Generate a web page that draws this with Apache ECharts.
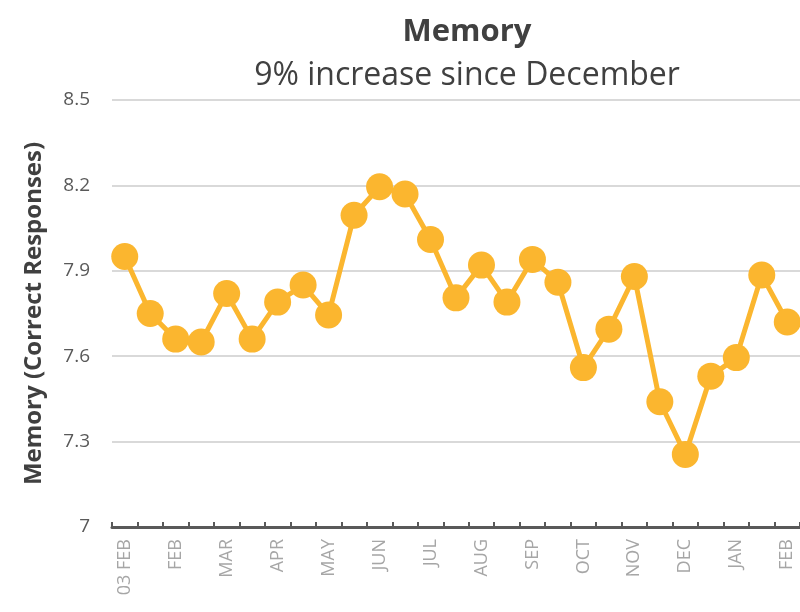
<!DOCTYPE html>
<html>
<head>
<meta charset="utf-8">
<script src="https://cdn.jsdelivr.net/npm/echarts@6/dist/echarts.min.js"></script>
<style>
  html, body { margin: 0; padding: 0; background: #fff; }
  #chart { width: 800px; height: 612px; }
</style>
</head>
<body>
<div id="chart"></div>
<script>
// biweekly points, only every other one gets a label
var categories = ['03 FEB', '', 'FEB', '', 'MAR', '', 'APR', '', 'MAY', '', 'JUN', '', 'JUL', '',
    'AUG', '', 'SEP', '', 'OCT', '', 'NOV', '', 'DEC', '', 'JAN', '', 'FEB'];
var memoryScores = [7.95, 7.75, 7.66, 7.65, 7.82, 7.66, 7.79, 7.85, 7.745, 8.095, 8.195, 8.17, 8.01, 7.805,
    7.92, 7.79, 7.94, 7.86, 7.56, 7.695, 7.88, 7.44, 7.255, 7.53, 7.595, 7.885, 7.72];
var yTicks = [7, 7.3, 7.6, 7.9, 8.2, 8.5];

var myChart = echarts.init(document.getElementById('chart'));
var option = {
    animation: false,
    textStyle: { fontFamily: 'Open Sans' },
    title: [{
        text: 'Memory',
        left: 462,
        top: 12,
        textAlign: 'center',
        textStyle: { fontSize: 31, fontWeight: 'bold', color: '#404040', fontFamily: 'Open Sans' }
    }, {
        text: '9% increase since December',
        left: 462,
        top: 55,
        textAlign: 'center',
        textStyle: { fontSize: 32, fontWeight: 'normal', color: '#404040', fontFamily: 'Open Sans' }
    }],
    grid: { left: 112, right: 0, top: 100, bottom: 85 },
    xAxis: {
        type: 'category',
        data: categories,
        boundaryGap: true,
        axisLine: { lineStyle: { color: '#595959', width: 3 } },
        axisTick: { show: true, inside: true, length: 5, interval: 0, lineStyle: { color: '#595959', width: 2 } },
        axisLabel: { interval: 0, rotate: 90, color: '#A6A6A6', fontSize: 18, margin: 12 },
        splitLine: { show: false }
    },
    yAxis: {
        type: 'value',
        min: 7,
        max: 8.5,
        interval: 0.3,
        name: 'Memory (Correct Responses)',
        nameLocation: 'middle',
        nameGap: 66,
        nameTextStyle: { fontSize: 24, fontWeight: 'bold', color: '#404040' },
        axisLine: { show: false },
        axisTick: { show: false },
        axisLabel: {
            color: '#595959', fontSize: 19, margin: 22,
            formatter: function (v) {
                var t = yTicks.find(function (x) { return Math.abs(x - v) < 1e-6; });
                return t === undefined ? '' : String(t);
            }
        },
        splitLine: { lineStyle: { color: '#D9D9D9', width: 2 } }
    },
    series: [{
        name: 'Memory',
        type: 'line',
        data: memoryScores,
        symbol: 'circle',
        symbolSize: 27,
        itemStyle: { color: '#FBB62F' },
        lineStyle: { color: '#FBB62F', width: 5 }
    }]
};
myChart.setOption(option);
</script>
</body>
</html>
